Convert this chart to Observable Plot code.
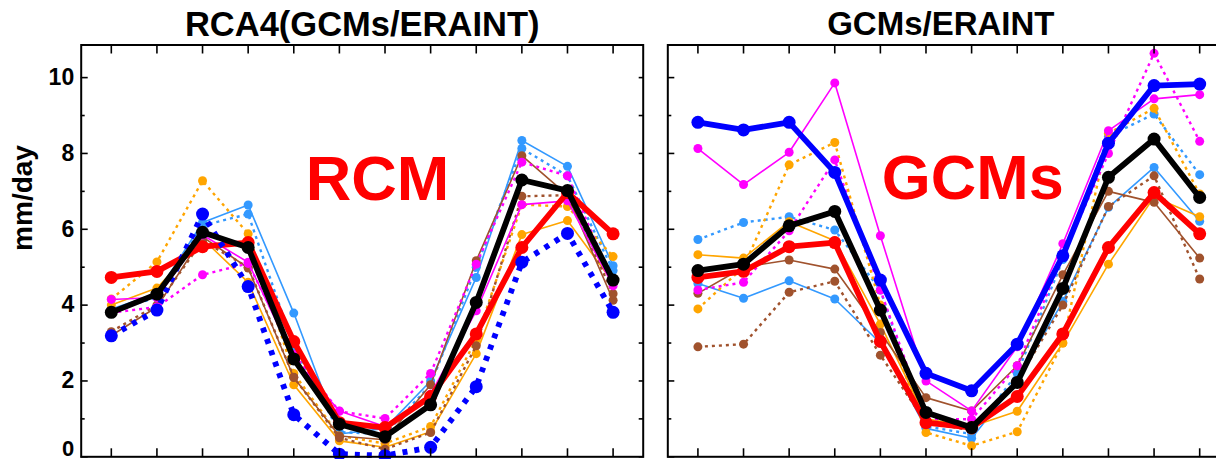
<!DOCTYPE html>
<html><head><meta charset="utf-8">
<script src="https://cdn.jsdelivr.net/npm/d3@7"></script>
<script src="https://cdn.jsdelivr.net/npm/@observablehq/plot@0.6"></script>
<style>
html,body{margin:0;padding:0;background:#fff;overflow:hidden;}
#wrap{position:relative;width:1216px;height:459px;overflow:hidden;background:#fff;}
#wrap svg{position:absolute;top:0;}
</style></head><body><div id="wrap"></div>
<script>
// ---------- data ----------
const months = [1,2,3,4,5,6,7,8,9,10,11,12];
const yTickLabels = [2,4,6,8,10];
const yZeroLabel = [0];
const yMajor = [0,2,4,6,8,10];
const yMinor = [1,3,5,7,9];
const yAll = [0,1,2,3,4,5,6,7,8,9,10];
const panelTitles = ["RCA4(GCMs/ERAINT)", "GCMs/ERAINT"];
const yLabel = "mm/day";
const annotationLabels = ["RCM", "GCMs"];
const annotationX = [5.26, 5.03];
const annotationY = [6.76, 6.81];

// ERAINT reference (red), same in both panels
const eraint = [4.73, 4.89, 5.54, 5.65, 3.04, 0.90, 0.77, 1.59, 3.24, 5.52, 6.97, 5.88];

// Left panel: RCA4 runs
const rcmMean        = [3.81, 4.29, 5.92, 5.52, 2.58, 0.86, 0.53, 1.37, 4.07, 7.30, 7.02, 4.66];
const rcmBlue        = [3.19, 3.87, 6.40, 4.49, 1.11, 0.07, 0.03, 0.25, 1.85, 5.13, 5.89, 3.81];
const rcmLightBlue   = [3.90, 4.30, 6.18, 6.64, 3.79, 0.60, 0.75, 2.00, 4.73, 8.34, 7.66, 5.04];
const rcmLightBlueDt = [3.85, 4.20, 6.10, 6.40, 2.90, 0.65, 0.60, 1.90, 5.00, 8.13, 7.41, 4.91];
const rcmOrange      = [4.00, 4.45, 5.75, 4.60, 1.90, 0.42, 0.25, 0.66, 2.72, 5.86, 6.23, 4.60];
const rcmOrangeDt    = [4.16, 5.14, 7.28, 5.88, 2.20, 0.55, 0.35, 0.80, 3.10, 6.65, 6.60, 5.28];
const rcmBrown       = [3.20, 3.95, 5.80, 4.98, 2.09, 0.55, 0.45, 1.90, 5.17, 7.94, 6.90, 4.13];
const rcmBrownDt     = [3.30, 4.00, 5.70, 5.00, 2.10, 0.50, 0.20, 0.64, 2.93, 6.87, 6.90, 4.30];
const rcmMagenta     = [4.15, 4.20, 5.85, 5.13, 2.60, 1.21, 0.80, 1.65, 3.85, 6.65, 6.75, 4.51];
const rcmMagentaDt   = [3.80, 3.95, 4.80, 5.10, 2.70, 1.20, 1.01, 2.20, 5.08, 7.77, 7.41, 4.60];

// Right panel: GCMs
const gcmMean        = [4.91, 5.08, 6.09, 6.47, 3.87, 1.17, 0.77, 1.96, 4.44, 7.37, 8.38, 6.84];
const gcmBlue        = [8.82, 8.62, 8.82, 7.50, 4.66, 2.20, 1.74, 2.97, 5.30, 8.27, 9.79, 9.83];
const gcmLightBlue   = [4.57, 4.18, 4.64, 4.16, 3.00, 0.75, 0.49, 2.00, 4.10, 6.58, 7.63, 6.21];
const gcmLightBlueDt = [5.73, 6.18, 6.33, 5.98, 4.40, 0.80, 0.60, 2.20, 5.20, 8.45, 9.04, 7.44];
const gcmOrange      = [5.33, 5.24, 6.20, 5.70, 3.50, 1.00, 0.80, 1.20, 3.00, 5.08, 6.85, 6.33];
const gcmOrangeDt    = [3.90, 5.00, 7.70, 8.29, 4.00, 0.64, 0.29, 0.66, 3.00, 8.53, 9.19, 6.93];
const gcmBrown       = [4.31, 5.00, 5.19, 4.95, 3.28, 1.56, 1.21, 2.40, 4.80, 7.00, 6.71, 5.24];
const gcmBrownDt     = [2.90, 2.97, 4.34, 4.63, 2.68, 0.90, 0.70, 2.00, 4.00, 6.60, 7.41, 4.69];
const gcmMagenta     = [8.13, 7.18, 8.03, 9.86, 5.83, 2.00, 1.21, 2.90, 5.62, 8.60, 9.44, 9.55];
const gcmMagentaDt   = [4.40, 4.60, 5.96, 7.83, 4.40, 1.00, 0.99, 2.40, 5.30, 8.00, 10.64, 8.32];

// ---------- styles ----------
const C = {lightblue:"#3399ff", orange:"#ffa500", brown:"#a0522d", magenta:"#ff00ff",
           blue:"#0000ff", red:"#ff0000", black:"#000000"};
const thinSolid = {strokeWidth:1.6, r:4.5};
const thinDot = {strokeWidth:2.4, dash:"3,4", r:4.5};
const thick = {strokeWidth:5.8, r:6.5};
const thickDot = {strokeWidth:5.8, dash:"5,7", r:6.5};

function rows(vals){ return months.map((m,i)=>({month:m, value:vals[i]})); }

function series(vals, color, st){
  const d = rows(vals);
  return [
    Plot.line(d, {x:"month", y:"value", stroke:color, strokeWidth:st.strokeWidth,
      strokeDasharray:st.dash || null, strokeLinejoin:"round",
      strokeLinecap: st.dash ? "butt" : "round"}),
    Plot.dot(d, {x:"month", y:"value", r:st.r, fill:color, stroke:"none"})
  ];
}

const font = "Liberation Sans, Arial, Helvetica, sans-serif";

function panel(idx, thin, blueSeries, blueStyle, meanSeries, opts){
  return Plot.plot({
    width: opts.width, height: 467,
    marginLeft: opts.marginLeft, marginRight: opts.marginRight,
    marginTop: 44.5, marginBottom: 10.7,
    x: {domain:[0.34, 12.66]},
    y: {domain:[0, 10.86]},
    style: {fontFamily: font, background:"transparent", color:"black", overflow:"visible"},
    marks: [
      ...thin.flatMap(([v,c,s]) => series(v,c,s)),
      ...series(eraint, C.red, thick),
      ...series(blueSeries, C.blue, blueStyle),
      ...series(meanSeries, C.black, thick),
      Plot.frame({stroke:"black", strokeWidth:2}),
      Plot.axisX(months, {anchor:"top", tickSize:-8, fill:"none", label:null, strokeWidth:1.6}),
      Plot.axisX(months, {anchor:"bottom", tickSize:-8, fill:"none", label:null, strokeWidth:1.6}),
      Plot.axisY(yMajor, {anchor:"left", tickSize:-7, fill:"none", label:null, strokeWidth:1.6}),
      Plot.axisY(yMinor, {anchor:"left", tickSize:-4, fill:"none", label:null, strokeWidth:1.6}),
      Plot.axisY(yAll, {anchor:"right", tickSize:-5, fill:"none", label:null, strokeWidth:1.6}),
      ...(opts.labels ? [
        Plot.axisY(yTickLabels, {anchor:"left", tickSize:0, tickPadding:7, fontSize:23,
          fontWeight:"bold", label:null, fill:"black"}),
        Plot.axisY(yZeroLabel, {anchor:"left", tickSize:0, tickPadding:7, fontSize:22,
          fontWeight:"bold", label:null, fill:"black", dy:-8}),
        Plot.text([yLabel], {frameAnchor:"left", dx:-58, rotate:-90, fontSize:28,
          fontWeight:"bold", text:d=>d, fill:"black"})
      ] : []),
      Plot.text([panelTitles[idx]], {frameAnchor:"top", lineAnchor:"bottom", dy:-9.5,
        dx: opts.titleDx, fontSize:opts.titleSize, fontWeight:"bold", text:d=>d, fill:"black"}),
      Plot.text([{label:annotationLabels[idx], x:annotationX[idx], y:annotationY[idx]}],
        {x:"x", y:"y", text:"label", textAnchor:"start", lineAnchor:"bottom",
         fill:C.red, fontSize:63, fontWeight:"bold"})
    ]
  });
}

const leftThin = [
  [rcmLightBlue, C.lightblue, thinSolid], [rcmLightBlueDt, C.lightblue, thinDot],
  [rcmOrange, C.orange, thinSolid], [rcmOrangeDt, C.orange, thinDot],
  [rcmBrown, C.brown, thinSolid], [rcmBrownDt, C.brown, thinDot],
  [rcmMagenta, C.magenta, thinSolid], [rcmMagentaDt, C.magenta, thinDot]
];
const rightThin = [
  [gcmLightBlue, C.lightblue, thinSolid], [gcmLightBlueDt, C.lightblue, thinDot],
  [gcmOrange, C.orange, thinSolid], [gcmOrangeDt, C.orange, thinDot],
  [gcmBrown, C.brown, thinSolid], [gcmBrownDt, C.brown, thinDot],
  [gcmMagenta, C.magenta, thinSolid], [gcmMagentaDt, C.magenta, thinDot]
];

const wrap = document.getElementById("wrap");
const p1 = panel(0, leftThin, rcmBlue, thickDot, rcmMean,
  {width:655, marginLeft:80.7, marginRight:12.3, labels:true, titleDx:0, titleSize:34.5});
p1.style.left = "0px";
wrap.appendChild(p1);
const p2 = panel(1, rightThin, gcmBlue, thick, gcmMean,
  {width:584.3, marginLeft:12.3, marginRight:10, labels:false, titleDx:-8, titleSize:33});
p2.style.left = "655px";
wrap.appendChild(p2);
</script></body></html>
